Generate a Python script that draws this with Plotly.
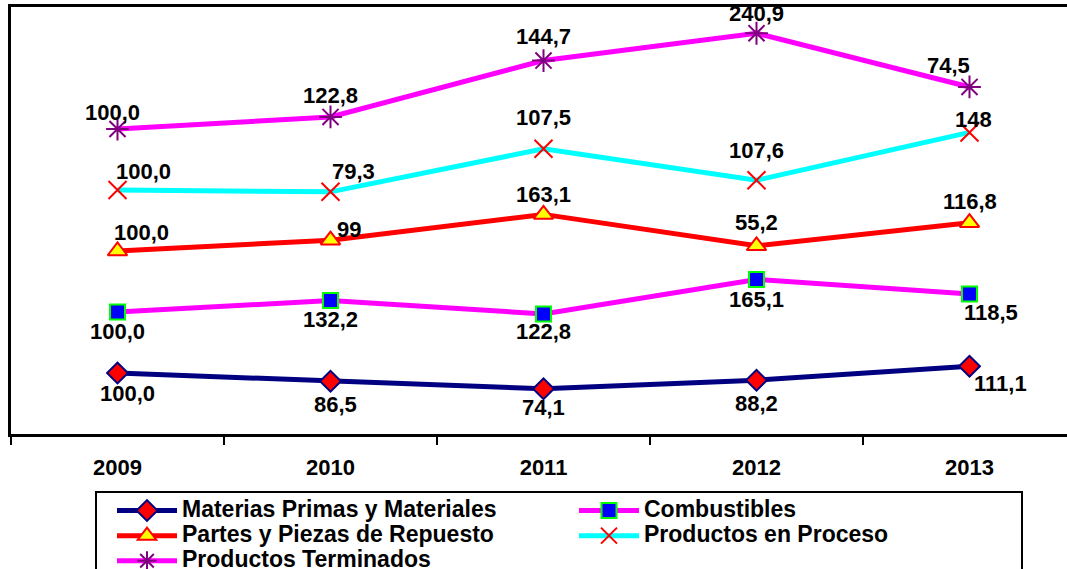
import numpy as np
import plotly.graph_objects as go

years = ["2009", "2010", "2011", "2012", "2013"]

series_names = [
    "Materias Primas y Materiales",
    "Combustibles",
    "Partes y Piezas de Repuesto",
    "Productos en Proceso",
    "Productos Terminados",
]
materias = [100.0, 86.5, 74.1, 88.2, 111.1]
combustibles = [100.0, 132.2, 122.8, 165.1, 118.5]
partes = [100.0, 99.0, 163.1, 55.2, 116.8]
proceso = [100.0, 79.3, 107.5, 107.6, 148.0]
terminados = [100.0, 122.8, 144.7, 240.9, 74.5]

labels_materias = ["100,0", "86,5", "74,1", "88,2", "111,1"]
labels_combustibles = ["100,0", "132,2", "122,8", "165,1", "118,5"]
labels_partes = ["100,0", "99", "163,1", "55,2", "116,8"]
labels_proceso = ["100,0", "79,3", "107,5", "107,6", "148"]
labels_terminados = ["100,0", "122,8", "144,7", "240,9", "74,5"]

values = [materias, combustibles, partes, proceso, terminados]
labels = [labels_materias, labels_combustibles, labels_partes, labels_proceso, labels_terminados]
stacked = np.cumsum(np.array(values), axis=0)

# styling: line, marker, and label pixel offsets (dx, dy) per point
styles = [
    dict(line=dict(color="#000080", width=5),
         marker=dict(symbol="diamond", size=16, color="#FF0000", line=dict(color="#000080", width=2)),
         off=[(10, -20), (5, -23), (0, -19), (0, -23), (31, -17)]),
    dict(line=dict(color="#FF00FF", width=5),
         marker=dict(symbol="square", size=15, color="#0000FF", line=dict(color="#00FF00", width=2)),
         off=[(0, -19), (0, -19), (0, -18), (0, -20), (21, -19)]),
    dict(line=dict(color="#FF0000", width=5),
         marker=dict(symbol="triangle-up", size=17, color="#FFFF00", line=dict(color="#FF0000", width=2)),
         off=[(24, 19), (18, 11), (0, 20), (0, 23), (0, 21)]),
    dict(line=dict(color="#00FFFF", width=5),
         marker=dict(symbol="x-thin-open", size=18, color="#FF0000", line=dict(color="#FF0000", width=2)),
         off=[(26, 19), (23, 20), (0, 31), (0, 30), (4, 13)]),
    dict(line=dict(color="#FF00FF", width=5),
         marker=dict(symbol="asterisk-open", size=19, color="#800080", line=dict(color="#800080", width=2)),
         off=[(-5, 17), (0, 21), (0, 24), (0, 20), (-21, 21)]),
]

FONT = "Liberation Sans, Arial, sans-serif"
W, H = 1067, 569

fig = go.Figure()
annotations = []
for name, ys, lab, st in zip(series_names, stacked, labels, styles):
    fig.add_trace(go.Scatter(
        x=years, y=ys, name='<span style="font-size:23px">' + name + "</span>",
        mode="lines+markers",
        line=st["line"], marker=st["marker"], cliponaxis=False,
    ))
    for i, (yv, t, (dx, dy)) in enumerate(zip(ys, lab, st["off"])):
        annotations.append(dict(
            x=i, y=float(yv), xref="x", yref="y", text=t, showarrow=False,
            xanchor="center", yanchor="middle", xshift=dx, yshift=dy,
            font=dict(family=FONT, size=22, color="black", weight="bold"),
        ))

fig.update_layout(
    width=W, height=H,
    margin=dict(l=0, r=0, t=0, b=0, autoexpand=False),
    paper_bgcolor="white", plot_bgcolor="white",
    font=dict(family=FONT, color="black"),
    annotations=annotations,
    xaxis=dict(
        domain=[11 / W, 1], type="category", range=[-0.5, 4.5 - 9 / 213],
        tickson="boundaries", ticks="outside", ticklen=8, tickwidth=2, tickcolor="black",
        showline=True, linewidth=2.5, linecolor="black", mirror=True,
        showgrid=False, zeroline=False,
        tickfont=dict(family=FONT, size=22, color="black", weight="bold"),
        ticklabelstandoff=12,
    ),
    yaxis=dict(
        domain=[1 - 434 / H, 1 - 7 / H], range=[0, 700],
        showline=True, linewidth=2.5, linecolor="black",
        showticklabels=False, ticks="", showgrid=False, zeroline=False,
    ),
    legend=dict(
        orientation="h", x=95 / W, xanchor="left", y=1 - 491 / H, yanchor="top",
        entrywidth=372, entrywidthmode="pixels", itemwidth=60, indentation=15,
        bordercolor="black", borderwidth=2, bgcolor="white",
        font=dict(family=FONT, size=17, color="black", weight="bold"),
        traceorder="normal",
    ),
)

fig.write_html("out.html", config={"displayModeBar": False},
               post_script="document.body.style.margin='0px';")
